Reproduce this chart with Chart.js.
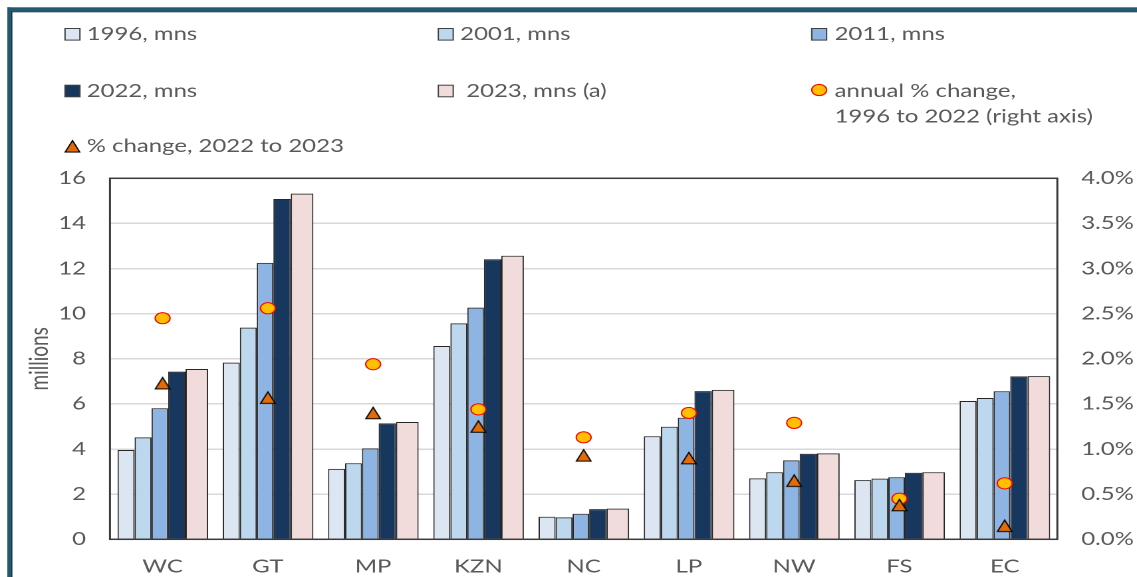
<!DOCTYPE html>
<html>
<head>
<meta charset="utf-8">
<script src="https://cdn.jsdelivr.net/npm/chart.js@4.4.1/dist/chart.umd.min.js"></script>
<style>
  html, body { margin: 0; padding: 0; background: #fff; overflow: hidden; }
  /* the chart is laid out on a narrower canvas and widened horizontally */
  #wrap { position: absolute; left: 0; top: 0; width: 855px; height: 577px;
          transform: scaleX(1.3298); transform-origin: 0 0; }
</style>
</head>
<body>
<div id="wrap"><canvas id="c"></canvas></div>
<script>
// Provinces
const categories = ['WC', 'GT', 'MP', 'KZN', 'NC', 'LP', 'NW', 'FS', 'EC'];

// Population, millions
const pop1996 = [3.96, 7.83, 3.12, 8.57, 1.00, 4.57, 2.70, 2.62, 6.13];
const pop2001 = [4.52, 9.38, 3.37, 9.57, 0.97, 4.99, 2.97, 2.69, 6.26];
const pop2011 = [5.81, 12.25, 4.03, 10.27, 1.13, 5.39, 3.50, 2.75, 6.56];
const pop2022 = [7.43, 15.08, 5.14, 12.41, 1.34, 6.57, 3.79, 2.95, 7.22];
const pop2023 = [7.55, 15.32, 5.20, 12.57, 1.36, 6.62, 3.81, 2.97, 7.23];

// Growth rates, percent (right axis)
const annualChange = [2.45, 2.56, 1.94, 1.44, 1.13, 1.40, 1.29, 0.45, 0.62];
const yoyChange = [1.73, 1.57, 1.40, 1.25, 0.93, 0.90, 0.65, 0.38, 0.15];

// Axis ticks
const leftTicks = [0, 2, 4, 6, 8, 10, 12, 14, 16];
const rightTicks = [0, 0.5, 1.0, 1.5, 2.0, 2.5, 3.0, 3.5, 4.0];

const TEXT = '#595959';
const FONT = 'Lato';

function triangleMarker(fill) {
  const cv = document.createElement('canvas');
  cv.width = 28; cv.height = 28;
  const g = cv.getContext('2d');
  g.beginPath();
  g.moveTo(14, 2.5); g.lineTo(25, 25.5); g.lineTo(3, 25.5); g.closePath();
  g.fillStyle = fill; g.fill();
  g.lineWidth = 2; g.strokeStyle = '#000'; g.stroke();
  const img = new Image(14, 14);
  img.src = cv.toDataURL();
  return img;
}
const triImg = triangleMarker('#e36c09');

function barSet(label, data, color, catPct, barPct) {
  return { type: 'bar', label, data, backgroundColor: color, borderColor: '#262626',
           borderWidth: 1, categoryPercentage: catPct, barPercentage: barPct,
           yAxisID: 'y', order: 2 };
}

// legend layout: [dataset index, column, row, text lines]
const legendItems = [
  [2, 0, 0, ['1996, mns']],
  [3, 1, 0, ['2001, mns']],
  [4, 2, 0, ['2011, mns']],
  [5, 0, 1, ['2022, mns']],
  [6, 1, 1, [' 2023, mns (a)']],
  [1, 2, 1, ['annual % change,', '1996 to 2022 (right axis)']],
  [0, 0, 2, ['% change, 2022 to 2023']]
];
const legendBoxX = [48.9, 329.6, 610.4];
const legendTextX = [65.2, 346.0, 627.6];
const legendRowY = [34.3, 91.0, 146.3];

const decor = {
  id: 'decor',
  afterDraw(chart) {
    const ctx = chart.ctx, a = chart.chartArea;
    ctx.save();
    // plot area frame
    ctx.strokeStyle = '#3a3a3a';
    ctx.lineWidth = 1.5;
    ctx.strokeRect(a.left, a.top, a.right - a.left, a.bottom - a.top);

    // outer panel border
    ctx.fillStyle = '#235a6e';
    ctx.fillRect(5.5, 7.3, 3, chart.height);
    ctx.fillRect(5.5, 7.3, chart.width, 4);
    ctx.fillStyle = '#13303f';
    ctx.fillRect(8.5, 11.3, 0.8, chart.height);
    ctx.fillRect(8.5, 11.3, chart.width, 1);

    // legend
    ctx.font = '18px ' + FONT;
    ctx.textBaseline = 'middle';
    ctx.textAlign = 'left';
    legendItems.forEach(([di, col, row, lines]) => {
      const ds = chart.data.datasets[di];
      const bx = legendBoxX[col], my = legendRowY[row];
      if (ds.type === 'bar') {
        ctx.fillStyle = ds.backgroundColor;
        ctx.fillRect(bx, my - 5.8, 11.2, 11.6);
        ctx.strokeStyle = '#404040';
        ctx.lineWidth = 1;
        ctx.strokeRect(bx, my - 5.8, 11.2, 11.6);
      } else if (ds.pointStyle === 'circle') {
        ctx.beginPath();
        ctx.arc(bx + 5.6, my - 1, 5.6, 0, Math.PI * 2);
        ctx.fillStyle = ds.pointBackgroundColor;
        ctx.fill();
        ctx.strokeStyle = ds.pointBorderColor;
        ctx.lineWidth = 1;
        ctx.stroke();
      } else {
        ctx.drawImage(triImg, bx + 5.6 - 7, my - 7, 14, 14);
      }
      ctx.fillStyle = TEXT;
      lines.forEach((t, k) => ctx.fillText(t, legendTextX[col], my + k * 25.5));
    });
    ctx.restore();
  }
};

function draw() {
  new Chart(document.getElementById('c'), {
    data: {
      labels: categories,
      datasets: [
        { type: 'line', label: '% change, 2022 to 2023', data: yoyChange, yAxisID: 'y1',
          showLine: false, pointStyle: triImg, pointRadius: 7, order: 0,
          backgroundColor: '#e36c09', borderColor: '#000' },
        { type: 'line', label: 'annual % change, 1996 to 2022 (right axis)', data: annualChange,
          yAxisID: 'y1', showLine: false, pointStyle: 'circle', pointRadius: 5.6,
          pointBackgroundColor: '#ffc000', pointBorderColor: '#ff0000', pointBorderWidth: 1,
          backgroundColor: '#ffc000', borderColor: '#ff0000', order: 1 },
        barSet('1996, mns', pop1996, '#dce6f2', 0.834, 1.164),
        barSet('2001, mns', pop2001, '#bdd7ee', 0.743, 1.301),
        barSet('2011, mns', pop2011, '#8db4e2', 0.318, 2.976),
        barSet('2022, mns', pop2022, '#17375e', 1.622, 0.612),
        barSet('2023, mns (a)', pop2023, '#f2dcdb', 1.299, 0.992),
        // empty slot that closes each group of bars
        { type: 'bar', label: '', data: categories.map(() => null), yAxisID: 'y', order: 2 }
      ]
    },
    options: {
      responsive: true,
      maintainAspectRatio: false,
      devicePixelRatio: 2,
      animation: false,
      layout: { padding: { top: 178.3, left: 0, right: 0, bottom: 0 } },
      plugins: { legend: { display: false }, tooltip: { enabled: false } },
      scales: {
        x: {
          type: 'category',
          offset: true,
          grid: { display: false, drawTicks: false },
          border: { display: false },
          ticks: { font: { family: FONT, size: 18 }, color: TEXT, padding: 16.6,
                   maxRotation: 0, autoSkip: false },
          afterFit(s) { s.height = 37.7; }
        },
        y: {
          position: 'left',
          min: 0, max: 16,
          afterBuildTicks(s) { s.ticks = leftTicks.map(v => ({ value: v })); },
          grid: { color: '#d9d9d9', lineWidth: 1.5, drawTicks: false },
          border: { display: false },
          ticks: { font: { family: FONT, size: 18 }, color: TEXT, padding: 18 },
          title: { display: true, text: 'millions', font: { family: FONT, size: 19 },
                   color: TEXT, padding: { top: 18.3, bottom: 0 } },
          afterFit(s) { s.width = 82.7; }
        },
        y1: {
          position: 'right',
          min: 0, max: 4,
          afterBuildTicks(s) { s.ticks = rightTicks.map(v => ({ value: v })); },
          grid: { display: false, drawTicks: false },
          border: { display: false },
          ticks: { font: { family: FONT, size: 18 }, color: TEXT, padding: 18,
                   callback: v => Number(v).toFixed(1) + '%' },
          afterFit(s) { s.width = 59.9; }
        }
      }
    },
    plugins: [decor]
  });
}

Promise.all([
  triImg.decode().catch(() => {}),
  document.fonts.load('18px ' + FONT).catch(() => {})
]).then(draw, draw);
</script>
</body>
</html>
